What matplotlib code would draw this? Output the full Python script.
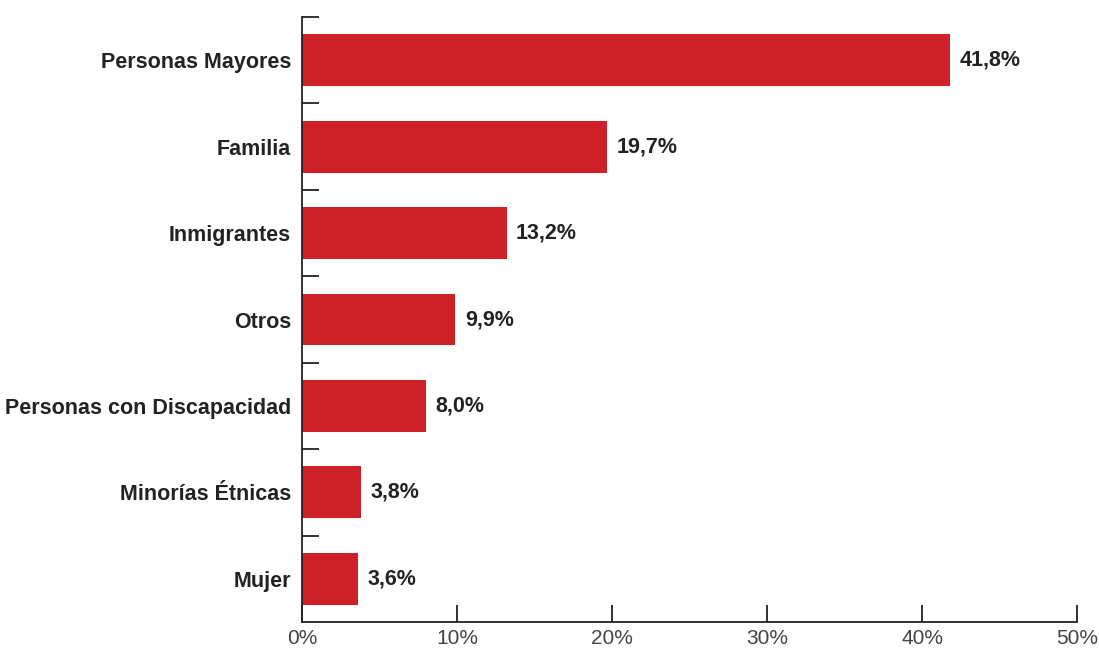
import numpy as np
import matplotlib
matplotlib.use("Agg")
import matplotlib.pyplot as plt

categories = ["Personas Mayores", "Familia", "Inmigrantes", "Otros",
              "Personas con Discapacidad", "Minorías Étnicas", "Mujer"]
values = [41.8, 19.7, 13.2, 9.9, 8.0, 3.8, 3.6]
labels = ["41,8%", "19,7%", "13,2%", "9,9%", "8,0%", "3,8%", "3,6%"]
xticks = [0, 10, 20, 30, 40, 50]

plt.rcParams["font.family"] = ["Liberation Sans", "DejaVu Sans"]

fig = plt.figure(figsize=(10.99, 6.51), dpi=100)
ax = fig.add_axes([302/1099, 1-622/651, (1077-302)/1099, (622-17)/651])

n = len(categories)
ypos = np.arange(n)
ax.barh(ypos, values, height=0.6, color="#cd2027")
for y, v, lab in zip(ypos, values, labels):
    ax.text(v + 0.6, y, lab, va="center", ha="left", fontsize=15.5,
            fontweight="bold", color="#222222")

ax.set_xlim(0, 50)
ax.set_ylim(n - 0.5, -0.5)

ax.set_xticks(xticks)
ax.set_xticklabels([f"{t}%" for t in xticks], fontsize=15, color="#444444")
ax.tick_params(axis="x", direction="in", length=12, width=1.3, color="#222222", pad=5)

# category labels at bar centres, boundary ticks between categories
ax.set_yticks(ypos)
ax.set_yticklabels(categories, fontsize=15.5, fontweight="bold", color="#222222")
ax.tick_params(axis="y", which="major", length=0, pad=8)
ax.set_yticks(np.arange(n) - 0.5, minor=True)
ax.tick_params(axis="y", which="minor", direction="in", length=12, width=1.3, color="#222222")

for s in ["top", "right"]:
    ax.spines[s].set_visible(False)
for s in ["left", "bottom"]:
    ax.spines[s].set_linewidth(1.3)
    ax.spines[s].set_color("#222222")

fig.savefig("out.png", dpi=100)
